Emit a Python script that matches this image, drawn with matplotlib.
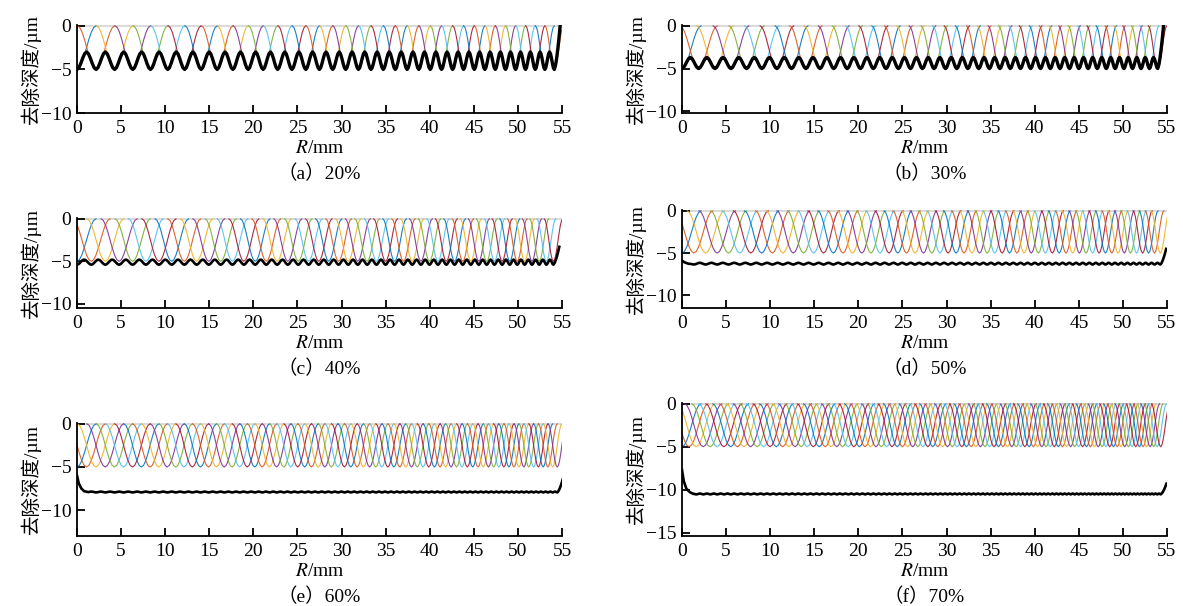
import numpy as np
import matplotlib
matplotlib.use("Agg")
import matplotlib.pyplot as plt

plt.rcParams['font.family'] = ['Liberation Serif', 'Noto Sans CJK SC']
plt.rcParams['mathtext.fontset'] = 'stix'
plt.rcParams['axes.unicode_minus'] = True

# overlap ratio of neighbouring tracks, one panel each
overlap = [0.2, 0.3, 0.4, 0.5, 0.6, 0.7]
captions = ["（a）20%", "（b）30%", "（c）40%", "（d）50%", "（e）60%", "（f）70%"]

# nominal footprint diameter (mm) at R = 0, 5, ..., 55
diam_R = [0, 5, 10, 15, 20, 25, 30, 35, 40, 45, 50, 55]
diam_mm = [2.7, 2.55, 2.4, 2.25, 2.1, 1.95, 1.82, 1.7, 1.6, 1.5, 1.4, 1.3]

# single footprint: position across it (in nominal radii) and removal depth (um)
profile_u = [-1.6, -1.4, -1.2, -1.0, -0.8, -0.6, -0.4, -0.2, 0.0,
             0.2, 0.4, 0.6, 0.8, 1.0, 1.2, 1.4, 1.6]
profile_depth = [0.0, -0.19, -0.73, -1.54, -2.5, -3.46, -4.27, -4.81, -5.0,
                 -4.81, -4.27, -3.46, -2.5, -1.54, -0.73, -0.19, 0.0]

# total removal (black): ripple between track centre (low) and midway (high)
ripple_shape = [0.0, 0.1, 0.35, 0.65, 0.9, 1.0, 0.9, 0.65, 0.35, 0.1, 0.0]
ripple_low = [-5.0, -5.0, -5.4, -6.35, -7.95, -10.55]
ripple_high = [-3.0, -3.7, -4.8, -6.15, -7.85, -10.45]
end_depth = [0.0, 0.0, -3.3, -4.5, -6.3, -9.3]
start_R = [[], [], [], [0.0, 0.3, 0.7, 1.1],
           [0.0, 0.2, 0.5, 0.8, 1.2], [0.0, 0.2, 0.5, 0.9, 1.3]]
start_depth = [[], [], [], [-5.9, -6.1, -6.25, -6.3],
               [-6.0, -6.9, -7.5, -7.8, -7.9], [-7.7, -9.0, -9.9, -10.3, -10.5]]

y_bottom = [-10, -10.2, -10.5, -11.5, -13, -15.4]
y_ticks = [[0, -5, -10]] * 5 + [[0, -5, -10, -15]]

colors = ['#0072BD', '#D95319', '#EDB120', '#7E2F8E', '#77AC30', '#4DBEEE', '#A2142F']

# left px, top px (y=0), bottom px of each axes
ax_px = [(77, 25, 113), (682, 25, 113), (77, 218, 308),
         (682, 210, 308), (77, 423, 536), (682, 403, 536)]

W, H = 1183, 606
fig = plt.figure(figsize=(W / 100, H / 100), dpi=100)

u = np.array(profile_u)
d = np.array(profile_depth)
rs = np.array(ripple_shape)

for k in range(6):
    lft, top, bot = ax_px[k]
    ax = fig.add_axes([lft / W, 1 - bot / H, 485 / W, (bot - top) / H])

    # track centres
    c = [0.0]
    while True:
        dm = np.interp(c[-1], diam_R, diam_mm)
        nxt = c[-1] + (1 - overlap[k]) * dm
        if nxt + 0.5 * np.interp(nxt, diam_R, diam_mm) > 55.2:
            break
        c.append(nxt)
    c = np.array(c)

    ax.axhline(0, color='#d4d4d4', lw=1.2, zorder=1)
    for i, ci in enumerate(c):
        dm = np.interp(ci, diam_R, diam_mm)
        ax.plot(ci + u * dm / 2, d, color=colors[i % 7], lw=0.8, alpha=0.9, zorder=2)

    # black total curve
    bx, by = [], []
    lo, hi = ripple_low[k], ripple_high[k]
    for i in range(len(c) - 1):
        xs = np.linspace(c[i], c[i + 1], len(rs))
        bx.extend(xs[:-1])
        by.extend(lo + (hi - lo) * rs[:-1])
    dl = np.interp(c[-1], diam_R, diam_mm)
    right = (u >= 0) & (u <= 1.0)
    frac = np.linspace(0, 1, right.sum()) ** 1.5
    bx.extend(c[-1] + u[right] * dl / 2)
    by.extend(lo + (end_depth[k] - lo) * frac)
    bx, by = np.array(bx), np.array(by)
    if start_R[k]:
        keep = bx > start_R[k][-1]
        bx = np.r_[start_R[k], bx[keep]]
        by = np.r_[start_depth[k], by[keep]]
    ax.plot(bx, by, color='black', lw=2.4 if k < 2 else 1.9, zorder=3)

    ax.set_xlim(0, 55)
    ax.set_ylim(y_bottom[k], 0.1)
    ax.set_xticks(range(0, 56, 5))
    ax.set_yticks(y_ticks[k])
    for s in ['top', 'right']:
        ax.spines[s].set_visible(False)
    for s in ['left', 'bottom']:
        ax.spines[s].set_linewidth(1.3)
    ax.tick_params(direction='in', length=6, width=1.3, labelsize=14, pad=4)
    ax.tick_params(axis='x', pad=5)
    ax.set_ylabel('去除深度/µm', fontsize=14, labelpad=0)
    ax.set_xlabel(r'$\mathit{R}$/mm', fontsize=14, labelpad=2)
    ax.annotate(captions[k], xy=(0.5, 0), xycoords='axes fraction',
                xytext=(0, -44), textcoords='offset points',
                ha='center', va='center', fontsize=14)

fig.savefig('out.png', dpi=100)
